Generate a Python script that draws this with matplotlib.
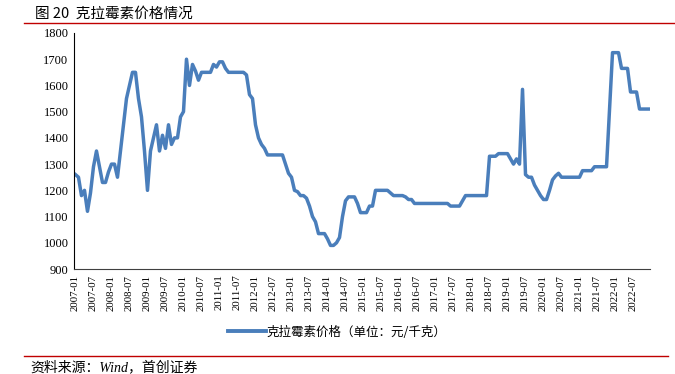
import matplotlib
matplotlib.use("Agg")
import matplotlib.pyplot as plt
from matplotlib.lines import Line2D

plt.rcParams['font.family'] = ['Noto Sans CJK SC', 'DejaVu Sans']

# monthly price, 2007-01 .. 2022-12 (元/千克)
price = [
    1260, 1250, 1180, 1200, 1120, 1190, 1290, 1350, 1290, 1230, 1230, 1270,   # 2007
    1300, 1300, 1250, 1350, 1450, 1550, 1600, 1650, 1650, 1550, 1480, 1350,   # 2008
    1200, 1350, 1400, 1450, 1350, 1410, 1360, 1450, 1375, 1400, 1400, 1480,   # 2009
    1500, 1700, 1600, 1680, 1655, 1620, 1650, 1650, 1650, 1650, 1680, 1670,   # 2010
    1690, 1690, 1665, 1650, 1650, 1650, 1650, 1650, 1650, 1640, 1565, 1550,   # 2011
    1450, 1400, 1375, 1360, 1335, 1335, 1335, 1335, 1335, 1335, 1300, 1265,   # 2012
    1250, 1200, 1195, 1180, 1180, 1170, 1140, 1100, 1080, 1035, 1035, 1035,   # 2013
    1015, 990, 990, 1000, 1020, 1100, 1160, 1175, 1175, 1175, 1150, 1115,     # 2014
    1115, 1115, 1140, 1140, 1200, 1200, 1200, 1200, 1200, 1190, 1180, 1180,   # 2015
    1180, 1180, 1175, 1165, 1165, 1150, 1150, 1150, 1150, 1150, 1150, 1150,   # 2016
    1150, 1150, 1150, 1150, 1150, 1140, 1140, 1140, 1140, 1160, 1180, 1180,   # 2017
    1180, 1180, 1180, 1180, 1180, 1180, 1330, 1330, 1330, 1340, 1340, 1340,   # 2018
    1340, 1320, 1300, 1320, 1300, 1585, 1260, 1250, 1250, 1220, 1200, 1180,   # 2019
    1165, 1165, 1200, 1240, 1255, 1265, 1250, 1250, 1250, 1250, 1250, 1250,   # 2020
    1250, 1275, 1275, 1275, 1275, 1290, 1290, 1290, 1290, 1290, 1510, 1725,   # 2021
    1725, 1725, 1665, 1665, 1665, 1575, 1575, 1575, 1510, 1510, 1510, 1510,   # 2022
]
months = [f"{y}-{m:02d}" for y in range(2007, 2023) for m in range(1, 13)]
tick_idx = list(range(0, len(months), 6))
yticks = list(range(900, 1801, 100))

fig = plt.figure(figsize=(6.75, 3.74), dpi=100)
ax = fig.add_axes([0.1096, 0.2807, 0.8534, 0.6311])

ax.plot(range(len(price)), price, color='#4A7EBB', lw=2.5,
        solid_joinstyle='round')

ax.set_xlim(-0.5, len(price) - 0.5)
ax.set_ylim(900, 1800)
ax.set_yticks(yticks)
ax.set_yticklabels([str(v) for v in yticks], family='Liberation Serif', fontsize=9)
ax.set_xticks(tick_idx)
ax.set_xticklabels([months[i] for i in tick_idx], rotation=90,
                   family='Liberation Serif', fontsize=7.8)
ax.tick_params(length=0, pad=4)
for s in ['top', 'right']:
    ax.spines[s].set_visible(False)
ax.spines['left'].set_color('black')
ax.spines['bottom'].set_color('#404040')

handle = Line2D([], [], color='#4A7EBB', lw=2.8)
fig.legend([handle], ['克拉霉素价格（单位：元/千克）'], loc='center',
           bbox_to_anchor=(0.5, 0.112), frameon=False, fontsize=9,
           handlelength=3.0, handletextpad=0.1)

fig.text(0.052, 0.962, '图 20  克拉霉素价格情况', fontsize=10.5, va='center', ha='left')
fig.add_artist(Line2D([0.035, 1.0], [0.938, 0.938], color='#C00000', lw=1.0))
fig.add_artist(Line2D([0.035, 0.99], [0.048, 0.048], color='#C00000', lw=1.0))
fig.text(0.045, 0.018, '资料来源：Wind，首创证券', fontsize=10, style='italic',
         family=['Liberation Serif', 'Noto Sans CJK SC'], va='center', ha='left')

fig.savefig('out.png', dpi=100)
